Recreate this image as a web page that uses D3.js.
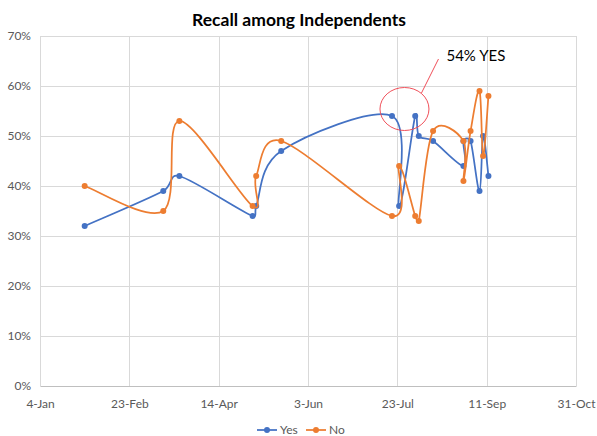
<!DOCTYPE html>
<html>
<head>
<meta charset="utf-8">
<script src="https://cdn.jsdelivr.net/npm/d3@7/dist/d3.min.js"></script>
<style>
  html, body { margin: 0; padding: 0; background: #fff; }
  svg { display: block; }
  text { font-family: Lato, "Open Sans", "DejaVu Sans", sans-serif; }
</style>
</head>
<body>
<svg id="chart" width="597" height="436"></svg>
<script>
// ---- data (2021) ----
const dates = [
  "2021-01-29", "2021-03-14", "2021-03-23", "2021-05-03", "2021-05-05", "2021-05-19",
  "2021-07-20", "2021-07-24", "2021-08-02", "2021-08-04", "2021-08-12",
  "2021-08-29", "2021-08-29", "2021-09-02", "2021-09-07", "2021-09-09", "2021-09-12"
];
const yesValues = [0.32, 0.39, 0.42, 0.34, 0.36, 0.47, 0.54, 0.36, 0.54, 0.50, 0.49, 0.44, 0.49, 0.49, 0.39, 0.50, 0.42];
const noValues  = [0.40, 0.35, 0.53, 0.36, 0.42, 0.49, 0.34, 0.44, 0.34, 0.33, 0.51, 0.49, 0.41, 0.51, 0.59, 0.46, 0.58];
const xTickDates = ["2021-01-04", "2021-02-23", "2021-04-14", "2021-06-03", "2021-07-23", "2021-09-11", "2021-10-31"];
const yTickValues = [0, 0.1, 0.2, 0.3, 0.4, 0.5, 0.6, 0.7];
const seriesNames = ["Yes", "No"];
const seriesColors = ["#4472C4", "#ED7D31"];
const titleText = "Recall among Independents";
const annotationText = "54% YES";

const parse = d3.timeParse("%Y-%m-%d");
const svg = d3.select("#chart");
const W = 597, H = 436;
const margin = { left: 40, right: 21, top: 36, bottom: 50 };

const x = d3.scaleTime()
  .domain([parse(xTickDates[0]), parse(xTickDates[xTickDates.length - 1])])
  .range([margin.left, W - margin.right]);
const y = d3.scaleLinear().domain([0, 0.7]).range([H - margin.bottom, margin.top]);

svg.append("rect").attr("width", W).attr("height", H).attr("fill", "#fff");

// gridlines
const grid = svg.append("g");
grid.selectAll("line.h").data(yTickValues.slice(1)).join("line")
  .attr("x1", margin.left).attr("x2", W - margin.right)
  .attr("y1", d => Math.round(y(d)) + 0.5).attr("y2", d => Math.round(y(d)) + 0.5)
  .attr("stroke", "#d9d9d9").attr("stroke-width", 1);
grid.selectAll("line.v").data(xTickDates.slice(1)).join("line")
  .attr("x1", d => Math.round(x(parse(d))) + 0.5).attr("x2", d => Math.round(x(parse(d))) + 0.5)
  .attr("y1", y(0.7)).attr("y2", y(0))
  .attr("stroke", "#d9d9d9").attr("stroke-width", 1);

// axes
const xAxis = d3.axisBottom(x).tickValues(xTickDates.map(parse))
  .tickFormat(d3.timeFormat("%-d-%b")).tickSize(0).tickPadding(13);
const gx = svg.append("g").attr("transform", `translate(0,${Math.round(y(0))})`).call(xAxis);
gx.select(".domain").attr("stroke", "#bfbfbf");
gx.selectAll("text").attr("fill", "#595959").attr("font-size", 12);

const yAxis = d3.axisLeft(y).tickValues(yTickValues).tickFormat(d3.format(".0%")).tickSize(0).tickPadding(9);
const gy = svg.append("g").attr("transform", `translate(${margin.left},0)`).call(yAxis);
gy.select(".domain").attr("stroke", "#d9d9d9");
gy.selectAll("text").attr("fill", "#595959").attr("font-size", 12);

// Excel-style smoothed line: Bezier handles of 1/6, capped at half the segment length
function smoothPath(P) {
  if (P.length < 2) return "";
  const dist = (a, b) => Math.hypot(b[0] - a[0], b[1] - a[1]);
  let s = `M${P[0][0]},${P[0][1]}`;
  for (let i = 0; i < P.length - 1; i++) {
    const p0 = P[i - 1] || P[i], p1 = P[i], p2 = P[i + 1], p3 = P[i + 2] || P[i + 1];
    const d12 = dist(p1, p2), d02 = dist(p0, p2), d13 = dist(p1, p3);
    let f1 = 1 / 6, f2 = 1 / 6;
    if (d02 / 6 >= d12 / 2) f1 = d02 > 0 ? d12 / (2 * d02) : 0;
    if (d13 / 6 >= d12 / 2) f2 = d13 > 0 ? d12 / (2 * d13) : 0;
    const c1 = [p1[0] + f1 * (p2[0] - p0[0]), p1[1] + f1 * (p2[1] - p0[1])];
    const c2 = [p2[0] - f2 * (p3[0] - p1[0]), p2[1] - f2 * (p3[1] - p1[1])];
    s += `C${c1[0]},${c1[1]} ${c2[0]},${c2[1]} ${p2[0]},${p2[1]}`;
  }
  return s;
}

// series
const series = [yesValues, noValues];
series.forEach((vals, i) => {
  const pts = dates.map((d, j) => ({ date: parse(d), value: vals[j] }));
  const g = svg.append("g");
  g.append("path").datum(pts).attr("d", d => smoothPath(d.map(p => [x(p.date), y(p.value)])))
    .attr("fill", "none").attr("stroke", seriesColors[i]).attr("stroke-width", 1.75)
    .attr("stroke-linejoin", "round");
  g.selectAll("circle").data(pts).join("circle")
    .attr("cx", d => x(d.date)).attr("cy", d => y(d.value)).attr("r", 3)
    .attr("fill", seriesColors[i]);
});

// title
svg.append("text").attr("x", 299).attr("y", 26).attr("text-anchor", "middle")
  .attr("font-size", 17.5).attr("font-weight", "bold").attr("fill", "#000").text(titleText);

// annotation
const ax = x(parse("2021-07-27")), ay = y(0.554);
svg.append("ellipse").attr("cx", ax).attr("cy", ay).attr("rx", 24.5).attr("ry", 21.5)
  .attr("fill", "none").attr("stroke", "#f0505a").attr("stroke-width", 1);
svg.append("line").attr("x1", ax + 17).attr("y1", ay - 16).attr("x2", ax + 34).attr("y2", ay - 50)
  .attr("stroke", "#f0505a").attr("stroke-width", 1);
svg.append("text").attr("x", ax + 42).attr("y", ay - 48).attr("font-size", 15).attr("fill", "#000")
  .text(annotationText);

// legend
const legend = svg.append("g");
const legendItems = [{ x: 257, tx: 280 }, { x: 306, tx: 329 }];
seriesNames.forEach((name, i) => {
  const lg = legend.append("g");
  lg.append("line").attr("x1", legendItems[i].x).attr("x2", legendItems[i].x + 20)
    .attr("y1", 430).attr("y2", 430).attr("stroke", seriesColors[i]).attr("stroke-width", 1.75);
  lg.append("circle").attr("cx", legendItems[i].x + 10).attr("cy", 430).attr("r", 3).attr("fill", seriesColors[i]);
  lg.append("text").attr("x", legendItems[i].tx).attr("y", 434).attr("font-size", 12)
    .attr("fill", "#595959").text(name);
});
</script>
</body>
</html>
